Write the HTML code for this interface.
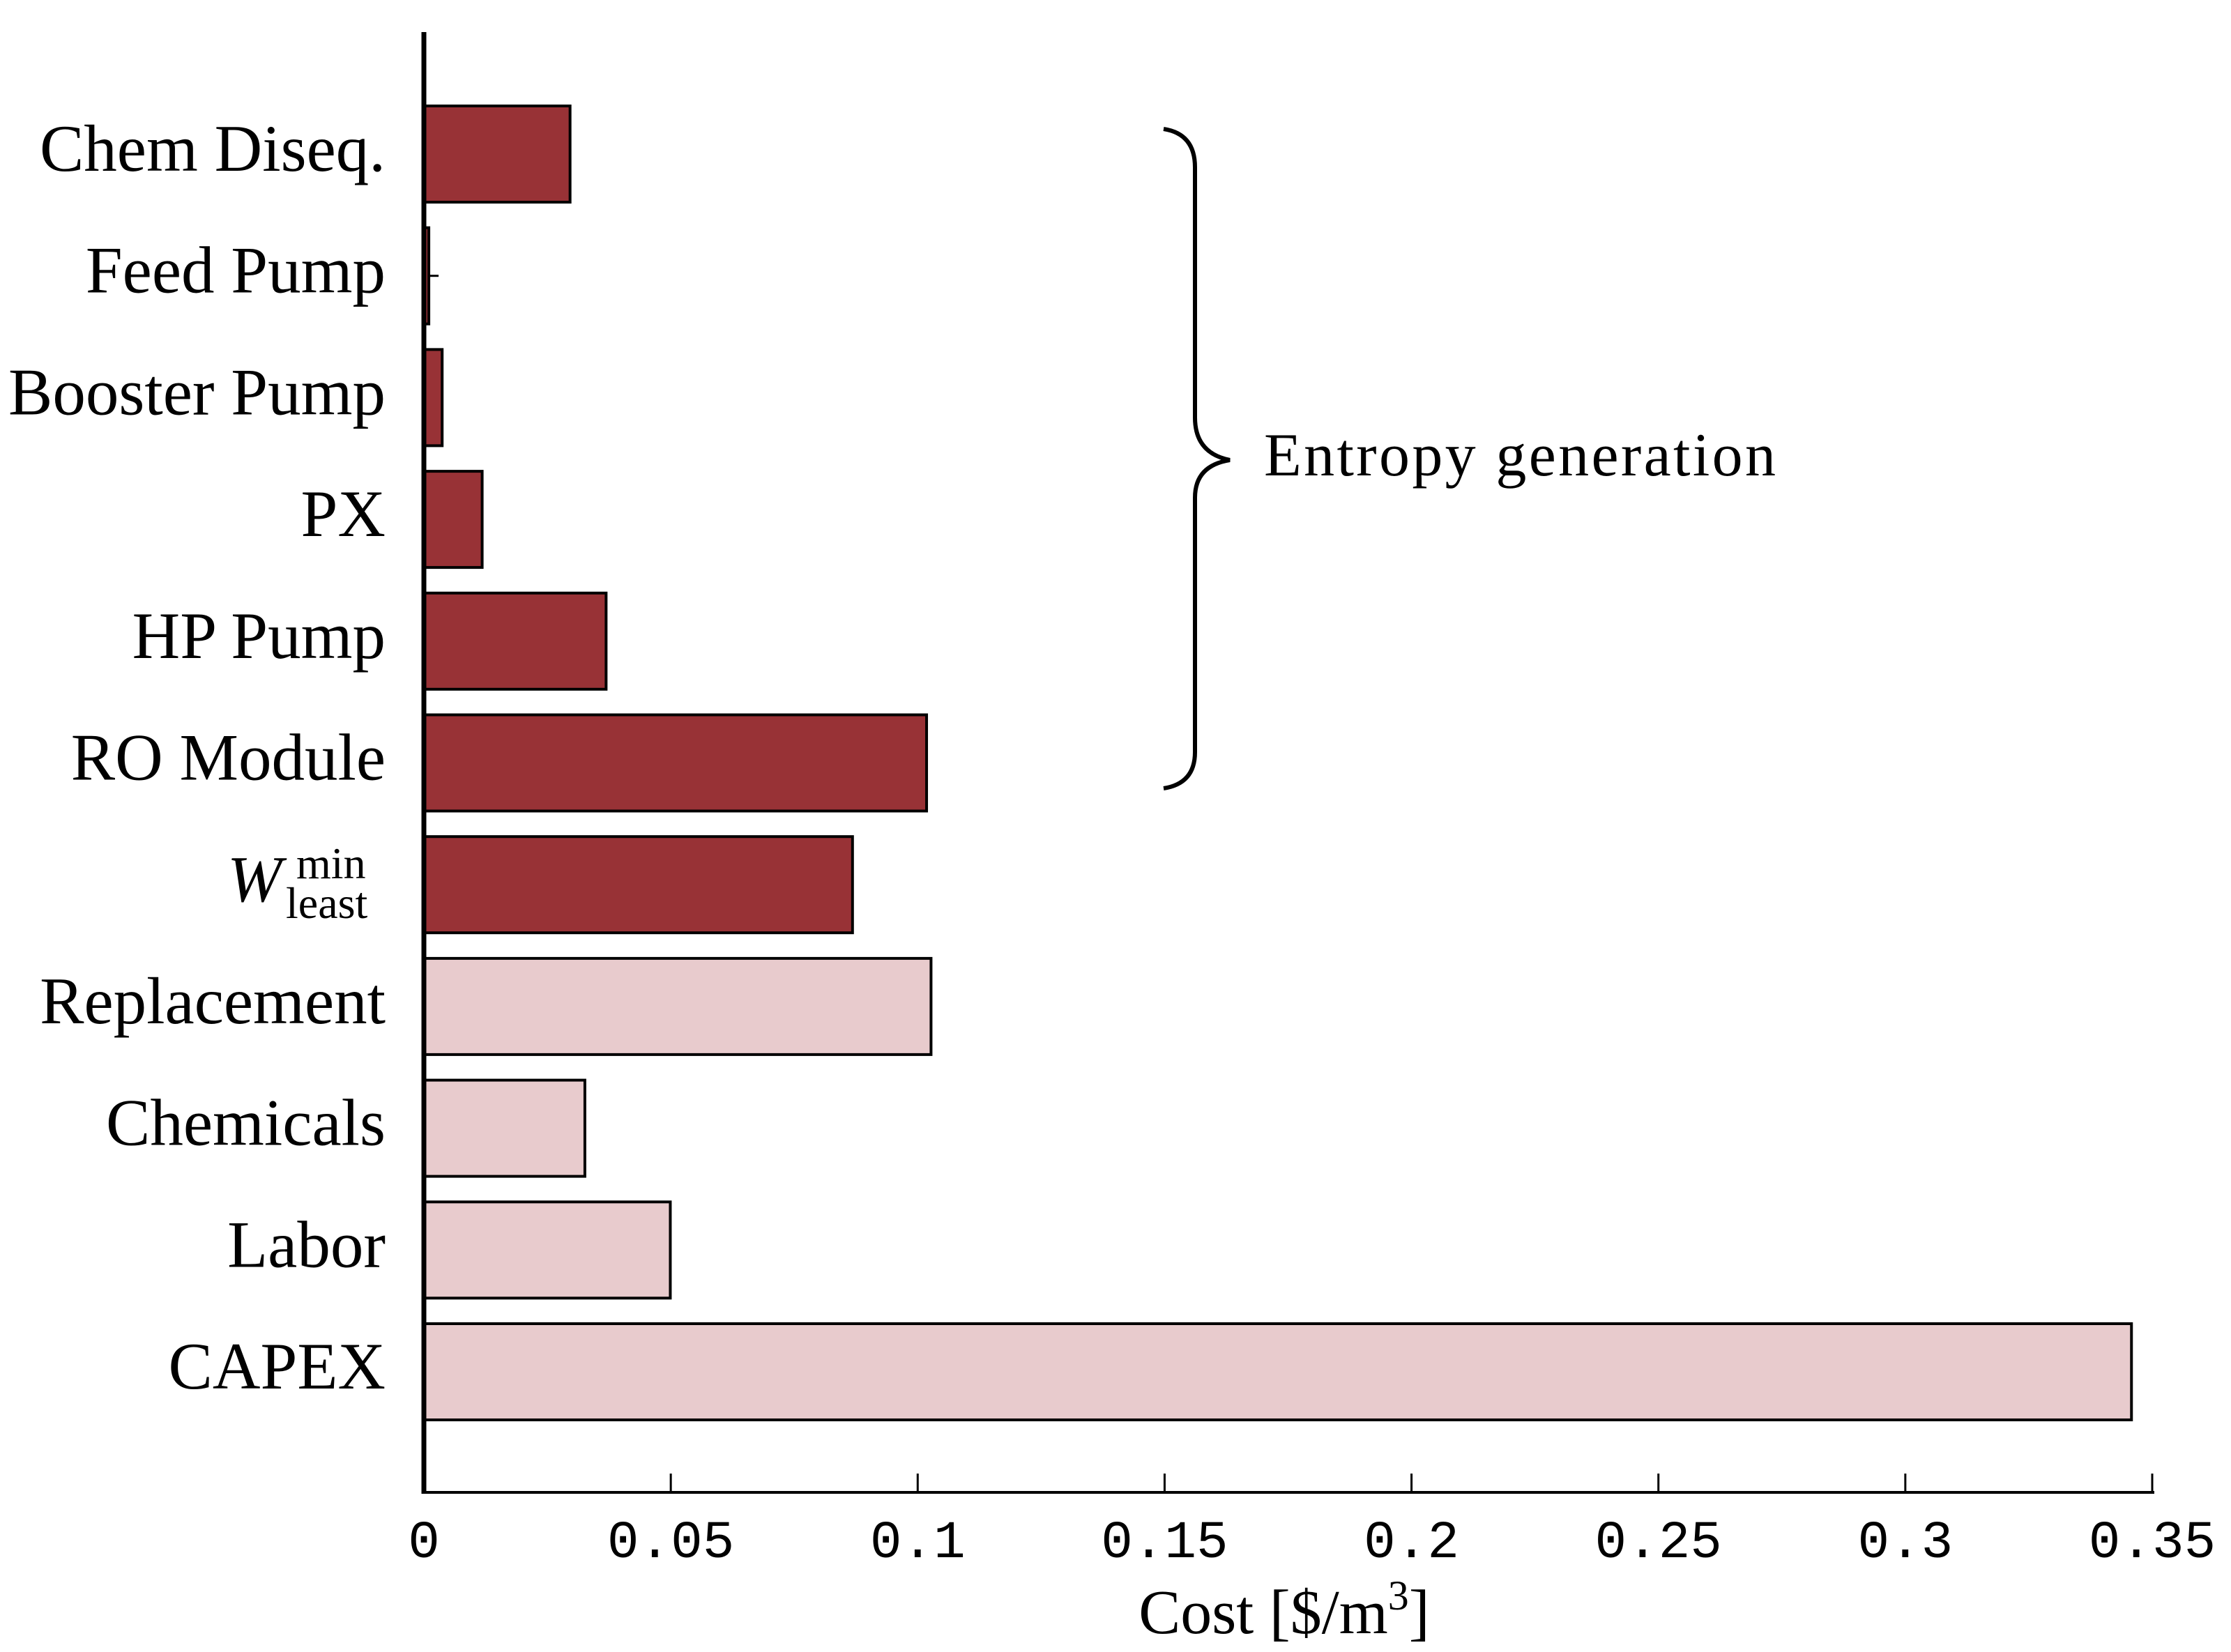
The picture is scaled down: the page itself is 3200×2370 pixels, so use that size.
<!DOCTYPE html>
<html><head><meta charset="utf-8"><style>
html,body{margin:0;padding:0;background:#fff;}
svg{display:block;font-family:"Liberation Serif",serif;}
</style></head><body>
<svg id="chart" width="3200" height="2370" viewBox="0 0 3200 2370" xmlns="http://www.w3.org/2000/svg">
<g id="bars"></g>
<g id="ylabels"></g>
<g id="xticks"></g>
<line x1="608" y1="46" x2="608" y2="2143" stroke="#000" stroke-width="7"/>
<line x1="605" y1="2141" x2="3090" y2="2141" stroke="#000" stroke-width="4"/>
<g>
<text x="326" y="1293" font-size="94" font-style="italic">W</text>
<text x="425" y="1260" font-size="64">min</text>
<text x="410" y="1317" font-size="64">least</text>
</g>
<path d="M1669,185 Q1714,192 1714,240 L1714,599 Q1714,650 1764,660 Q1714,668 1714,714 L1714,1079 Q1714,1124 1669,1131" fill="none" stroke="#000" stroke-width="6"/>
<text x="1813" y="682" font-size="88" textLength="734">Entropy generation</text>
<text x="1842" y="2343" font-size="90" text-anchor="middle">Cost [$/m<tspan dy="-34" font-size="60">3</tspan><tspan dy="34">]</tspan></text>
</svg>
<script>
const categories = ["Chem Diseq.","Feed Pump","Booster Pump","PX","HP Pump","RO Module","Wleast","Replacement","Chemicals","Labor","CAPEX"];
const values = [0.0296,0.001,0.0037,0.0118,0.0369,0.1018,0.0868,0.1027,0.0326,0.0499,0.3458];
const groups = ["entropy","entropy","entropy","entropy","entropy","entropy","entropy","other","other","other","other"];
const xTicks = [0,0.05,0.1,0.15,0.2,0.25,0.3,0.35];
const xTickLabels = ["0","0.05","0.1","0.15","0.2","0.25","0.3","0.35"];

const NS="http://www.w3.org/2000/svg";
const x0=608, xScale=(3087-608)/0.35;
function xPos(v){return x0+v*xScale;}
const yFirst=221, yStep=174.7, barH=138;
function yPos(i){return yFirst+i*yStep;}
const colors={entropy:"#983236",other:"#E8CBCD"};
const gBars=document.getElementById('bars');
const gLab=document.getElementById('ylabels');
const gTicks=document.getElementById('xticks');
categories.forEach((c,i)=>{
  const r=document.createElementNS(NS,'rect');
  r.setAttribute('x',x0);
  r.setAttribute('y',yPos(i)-barH/2);
  r.setAttribute('width',Math.max(xPos(values[i])-x0,1));
  r.setAttribute('height',barH);
  r.setAttribute('fill',colors[groups[i]]);
  r.setAttribute('stroke','#000');
  r.setAttribute('stroke-width','4');
  
  
  gBars.appendChild(r);
  if(c!=="Wleast"){
    const t=document.createElementNS(NS,'text');
    t.setAttribute('x',553);
    t.setAttribute('y',yPos(i)+24);
    t.setAttribute('font-size','95');
    t.setAttribute('text-anchor','end');
    t.textContent=c;
    
    
    gLab.appendChild(t);
  }
});
const fp=document.createElementNS(NS,'line');
fp.setAttribute('x1',xPos(values[1]));fp.setAttribute('x2',xPos(values[1])+14);
fp.setAttribute('y1',yPos(1));fp.setAttribute('y2',yPos(1));
fp.setAttribute('stroke','#000');fp.setAttribute('stroke-width','3');


gBars.appendChild(fp);
xTicks.forEach((v,i)=>{
  if(i>0){
    const l=document.createElementNS(NS,'line');
    l.setAttribute('x1',xPos(v));l.setAttribute('x2',xPos(v));
    l.setAttribute('y1',2114);l.setAttribute('y2',2141);
    l.setAttribute('stroke','#000');l.setAttribute('stroke-width','3');
    
    
    gTicks.appendChild(l);
  }
  const t=document.createElementNS(NS,'text');
  t.setAttribute('x',xPos(v));
  t.setAttribute('y',2234);
  t.setAttribute('font-size','76');
  t.setAttribute('font-family','"Liberation Mono", monospace');
  t.setAttribute('text-anchor','middle');
  t.textContent=xTickLabels[i];
  
  
  gTicks.appendChild(t);
});
</script>
</body></html>
